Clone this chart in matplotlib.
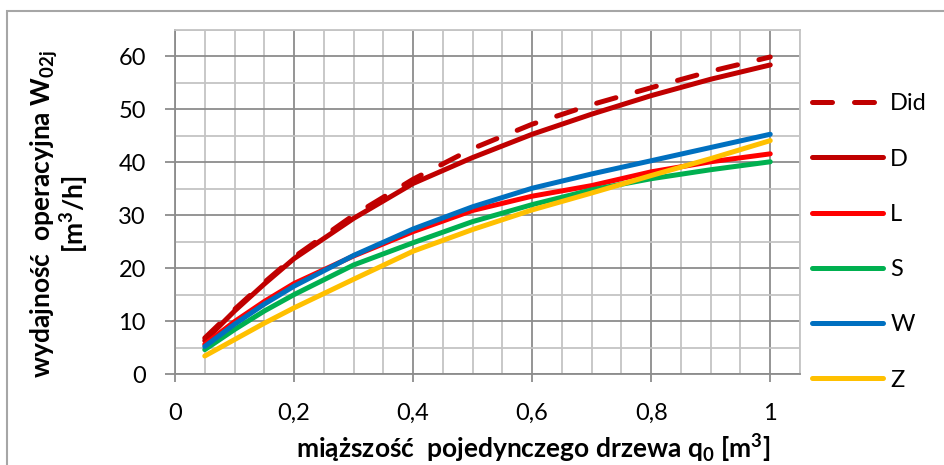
import matplotlib
matplotlib.use("Agg")
import matplotlib.pyplot as plt
from matplotlib.patches import Rectangle
from matplotlib.ticker import MultipleLocator

plt.rcParams["font.family"] = ["Lato", "DejaVu Sans"]
plt.rcParams["mathtext.fontset"] = "custom"
plt.rcParams["mathtext.rm"] = "Lato:bold"
plt.rcParams["mathtext.it"] = "Lato:bold"
plt.rcParams["mathtext.bf"] = "Lato:bold"
plt.rcParams["mathtext.default"] = "rm"

# dane
q0 = [0.05, 0.1, 0.15, 0.2, 0.3, 0.4, 0.5, 0.6, 0.7, 0.8, 0.9, 1.0]
w_did = [6.8, 12.2, 17.3, 22.1, 30.0, 36.8, 42.6, 47.2, 50.9, 54.1, 57.2, 59.9]
w_d = [6.3, 11.9, 17.0, 21.8, 29.4, 36.0, 40.9, 45.3, 49.1, 52.6, 55.7, 58.4]
w_l = [5.6, 9.9, 13.7, 17.1, 22.3, 26.9, 30.9, 33.6, 35.6, 38.2, 40.1, 41.6]
w_s = [4.6, 8.4, 11.9, 15.0, 20.6, 24.8, 28.8, 32.0, 34.8, 36.9, 38.6, 40.1]
w_w = [5.2, 9.4, 13.2, 16.6, 22.4, 27.4, 31.6, 35.1, 37.8, 40.3, 42.8, 45.3]
w_z = [3.4, 6.5, 9.6, 12.5, 17.9, 23.2, 27.3, 31.0, 34.2, 37.5, 40.7, 44.1]

x_ticks = [0, 0.2, 0.4, 0.6, 0.8, 1.0]
x_tick_labels = ["0", "0,2", "0,4", "0,6", "0,8", "1"]
y_ticks = [0, 10, 20, 30, 40, 50, 60]

fig = plt.figure(figsize=(9.45, 4.65), dpi=100)
ax = fig.add_axes([175 / 945, 1 - 374 / 465, 625 / 945, 344 / 465])

# ramka wokol calego wykresu
fig.patches.append(Rectangle((7 / 945, -0.05), 1.1, 1 - 11 / 465 + 0.05,
                             transform=fig.transFigure, fill=False,
                             edgecolor="#a6a6a6", linewidth=1.5))

lw = 3.6
ax.plot(q0, w_did, color="#C00000", lw=lw, dashes=(4.0, 4.4),
        dash_capstyle="round", label="Did")
ax.plot(q0, w_d, color="#C00000", lw=lw, solid_capstyle="round", label="D")
ax.plot(q0, w_l, color="#FF0000", lw=lw, solid_capstyle="round", label="L")
ax.plot(q0, w_s, color="#00B050", lw=lw, solid_capstyle="round", label="S")
ax.plot(q0, w_w, color="#0070C0", lw=lw, solid_capstyle="round", label="W")
ax.plot(q0, w_z, color="#FFC000", lw=lw, solid_capstyle="round", label="Z")

ax.set_xlim(0, 1.05)
ax.set_ylim(0, 65)
ax.set_xticks(x_ticks)
ax.set_xticklabels(x_tick_labels)
ax.set_yticks(y_ticks)
ax.xaxis.set_minor_locator(MultipleLocator(0.05))
ax.yaxis.set_minor_locator(MultipleLocator(5))

ax.grid(which="major", color="#8c8c8c", linewidth=1.3)
ax.grid(which="minor", color="#c4c4c4", linewidth=1.3)
ax.set_axisbelow(True)
for s in ["left", "bottom"]:
    ax.spines[s].set_color("#8c8c8c")
    ax.spines[s].set_linewidth(1.3)
for s in ["top", "right"]:
    ax.spines[s].set_color("#c4c4c4")
    ax.spines[s].set_linewidth(1.3)

ax.tick_params(which="major", direction="out", color="#8c8c8c", width=1.3,
               labelsize=17, labelcolor="black")
ax.tick_params(axis="y", which="major", length=7, pad=14)
ax.tick_params(axis="x", which="major", length=6, pad=15)
ax.tick_params(which="minor", length=0)

fig.text(60 / 945, 1 - 214 / 465,
         "wydajność  operacyjna W$_{02j}$\n[m$^{3}$/h]",
         rotation=90, ha="center", va="center", multialignment="center",
         fontsize=19, fontweight="bold", linespacing=0.95)
fig.text(533 / 945, 1 - 449 / 465,
         "miąższość  pojedynczego drzewa q$_{0}$ [m$^{3}$]",
         ha="center", va="center", fontsize=19, fontweight="bold")

ax.legend(loc="upper left", bbox_to_anchor=(803 / 945, 1 - 84 / 465),
          bbox_transform=fig.transFigure, frameon=False, fontsize=17,
          handlelength=3.0, handletextpad=0.3, labelspacing=1.45,
          borderaxespad=0)

fig.savefig("out.png", dpi=100)
